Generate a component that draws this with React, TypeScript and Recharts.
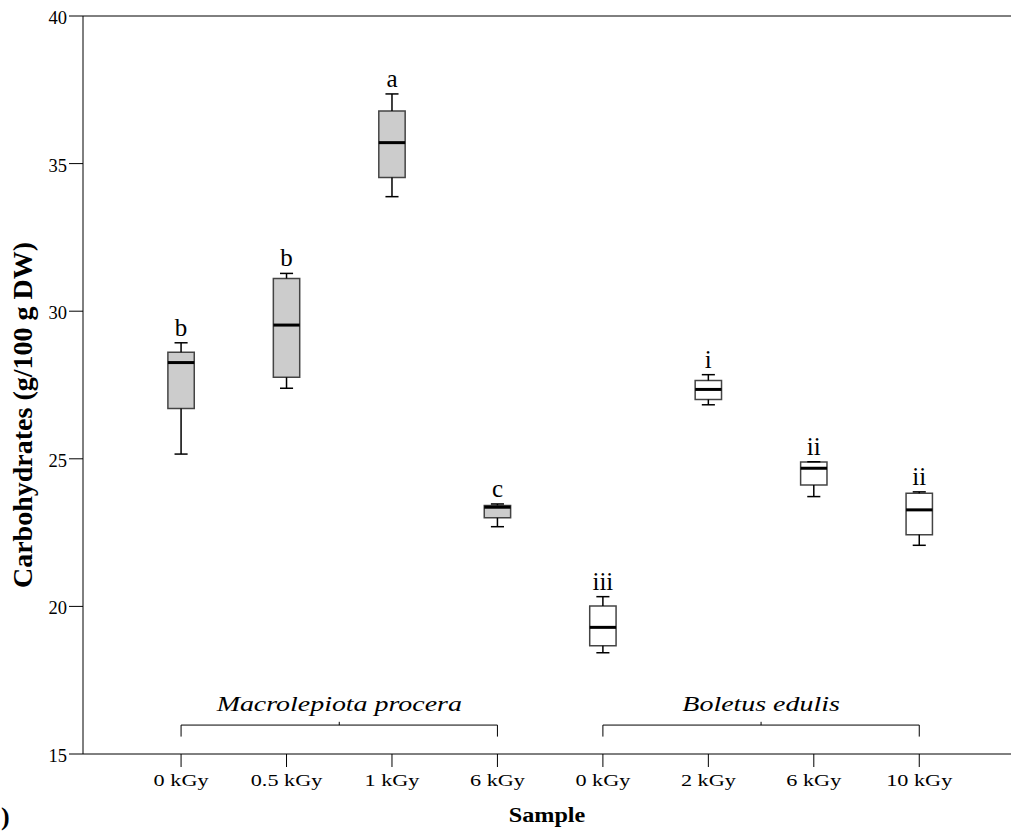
import React from 'react';
import { ComposedChart, XAxis, YAxis, Scatter, ReferenceArea, ReferenceLine, Label } from 'recharts';

// samples on the x axis, grouped by species
const sampleLabels = ['0 kGy', '0.5 kGy', '1 kGy', '6 kGy', '0 kGy', '2 kGy', '6 kGy', '10 kGy'];
const speciesNames = ['Macrolepiota procera', 'Boletus edulis'];
const speciesOfSample = [0, 0, 0, 0, 1, 1, 1, 1];

// box plot statistics (g/100 g DW)
const whiskerLow = [25.16, 27.39, 33.88, 22.7, 18.43, 26.83, 23.72, 22.07];
const quartile1 = [26.7, 27.76, 34.53, 23.0, 18.67, 27.01, 24.11, 22.43];
const median = [28.26, 29.53, 35.71, 23.36, 19.29, 27.35, 24.68, 23.27];
const quartile3 = [28.61, 31.11, 36.78, 23.42, 20.01, 27.65, 24.89, 23.83];
const whiskerHigh = [28.93, 31.28, 37.36, 23.47, 20.33, 27.85, 24.9, 23.88];
const letters = ['b', 'b', 'a', 'c', 'iii', 'i', 'ii', 'ii'];

const yTicks = [15, 20, 25, 30, 35, 40];

const FONT = '"Liberation Serif", "Times New Roman", serif';
const BOX_HALF = 0.125;
const CAP_HALF = 0.062;
const BRACE_Y = 15.98;
const BRACE_END = 15.59;
const BRACE_TIP = 16.09;
const GROUP_LABEL_Y = 16.46;
const WIDE = 1.27; // the figure's text is a bit stretched sideways

const boxes = sampleLabels.map((name, i) => ({
  pos: i + 1,
  name,
  lo: whiskerLow[i],
  q1: quartile1[i],
  med: median[i],
  q3: quartile3[i],
  hi: whiskerHigh[i],
  letter: letters[i],
  fill: speciesOfSample[i] === 0 ? '#cccccc' : '#ffffff',
}));

const groups = speciesNames.map((name, g) => {
  const idx = speciesOfSample.map((s, i) => (s === g ? i + 1 : -1)).filter((v) => v > 0);
  const first = Math.min(...idx);
  const last = Math.max(...idx);
  return { name, first, last, pos: (first + last) / 2, y: GROUP_LABEL_Y };
});

const XTick = (props: any) => {
  const { x, y, payload } = props;
  return (
    <text
      transform={`translate(${x} ${y + 17}) scale(${WIDE} 1)`}
      textAnchor="middle"
      fontFamily={FONT}
      fontSize={17.5}
      fill="#000"
    >
      {sampleLabels[payload.value - 1]}
    </text>
  );
};

const YTick = (props: any) => {
  const { x, y, payload } = props;
  return (
    <text x={x} y={y + 8} textAnchor="end" fontFamily={FONT} fontSize={18.5} fill="#000">
      {payload.value}
    </text>
  );
};

const LetterShape = (props: any) => (
  <text x={props.cx} y={props.cy - 7} textAnchor="middle" fontFamily={FONT} fontSize={25} fill="#000">
    {props.payload.letter}
  </text>
);

const GroupShape = (props: any) => (
  <text
    transform={`translate(${props.cx} ${props.cy}) scale(${WIDE} 1)`}
    textAnchor="middle"
    fontFamily={FONT}
    fontStyle="italic"
    fontSize={22}
    fill="#000"
  >
    {props.payload.name}
  </text>
);

const XTitle = (props: any) => {
  const { x, y, width } = props.viewBox;
  return (
    <g>
      <text
        transform={`translate(${x + width / 2} ${y + 68}) scale(1.1 1)`}
        textAnchor="middle"
        fontFamily={FONT}
        fontWeight="bold"
        fontSize={22}
        fill="#000"
      >
        Sample
      </text>
      <text x={x - 82} y={y + 71} fontFamily={FONT} fontWeight="bold" fontSize={26} fill="#000">
        )
      </text>
    </g>
  );
};

const YTitle = () => (
  <text
    x={32}
    y={415}
    transform="rotate(-90 32 415)"
    textAnchor="middle"
    fontFamily={FONT}
    fontWeight="bold"
    fontSize={28}
    fill="#000"
  >
    Carbohydrates (g/100 g DW)
  </text>
);

const seg = (x1: number, y1: number, x2: number, y2: number) => [
  { x: x1, y: y1 },
  { x: x2, y: y2 },
];

export default function App() {
  return (
    <div style={{ position: 'absolute', left: 0, top: 0, background: '#fff' }}>
      <ComposedChart width={1011} height={831} data={boxes} margin={{ top: 16, right: 0, bottom: 0, left: 0 }}>
        <XAxis
          type="number"
          dataKey="pos"
          domain={[0.07, 8.87]}
          ticks={[1, 2, 3, 4, 5, 6, 7, 8]}
          allowDataOverflow
          height={77}
          tickSize={13}
          tick={<XTick />}
          axisLine={{ stroke: '#000' }}
          tickLine={{ stroke: '#000' }}
        >
          <Label content={<XTitle />} />
        </XAxis>
        <YAxis
          type="number"
          domain={[15, 40]}
          ticks={yTicks}
          allowDataOverflow
          width={83}
          tickSize={14}
          tick={<YTick />}
          axisLine={{ stroke: '#000' }}
          tickLine={{ stroke: '#000' }}
        >
          <Label content={<YTitle />} />
        </YAxis>

        <ReferenceLine y={40} stroke="#000" strokeWidth={1} />

        {boxes.map((b) => (
          <ReferenceArea
            key={`box-${b.pos}`}
            x1={b.pos - BOX_HALF}
            x2={b.pos + BOX_HALF}
            y1={b.q1}
            y2={b.q3}
            fill={b.fill}
            fillOpacity={1}
            stroke="#444"
            strokeWidth={1.5}
          />
        ))}
        {boxes.flatMap((b) => [
          <ReferenceLine key={`wl-${b.pos}`} segment={seg(b.pos, b.lo, b.pos, b.q1)} stroke="#000" strokeWidth={1.5} />,
          <ReferenceLine key={`wh-${b.pos}`} segment={seg(b.pos, b.q3, b.pos, b.hi)} stroke="#000" strokeWidth={1.5} />,
          <ReferenceLine key={`cl-${b.pos}`} segment={seg(b.pos - CAP_HALF, b.lo, b.pos + CAP_HALF, b.lo)} stroke="#000" strokeWidth={1.5} />,
          <ReferenceLine key={`ch-${b.pos}`} segment={seg(b.pos - CAP_HALF, b.hi, b.pos + CAP_HALF, b.hi)} stroke="#000" strokeWidth={1.5} />,
          <ReferenceLine key={`md-${b.pos}`} segment={seg(b.pos - BOX_HALF, b.med, b.pos + BOX_HALF, b.med)} stroke="#000" strokeWidth={3} />,
        ])}

        {groups.flatMap((g) => [
          <ReferenceLine key={`bh-${g.name}`} segment={seg(g.first, BRACE_Y, g.last, BRACE_Y)} stroke="#000" strokeWidth={1} />,
          <ReferenceLine key={`bl-${g.name}`} segment={seg(g.first, BRACE_Y, g.first, BRACE_END)} stroke="#000" strokeWidth={1} />,
          <ReferenceLine key={`br-${g.name}`} segment={seg(g.last, BRACE_Y, g.last, BRACE_END)} stroke="#000" strokeWidth={1} />,
          <ReferenceLine key={`bt-${g.name}`} segment={seg(g.pos, BRACE_Y, g.pos, BRACE_TIP)} stroke="#000" strokeWidth={1} />,
        ])}

        <Scatter data={boxes} dataKey="hi" shape={<LetterShape />} isAnimationActive={false} />
        <Scatter data={groups} dataKey="y" shape={<GroupShape />} isAnimationActive={false} />
      </ComposedChart>
    </div>
  );
}
